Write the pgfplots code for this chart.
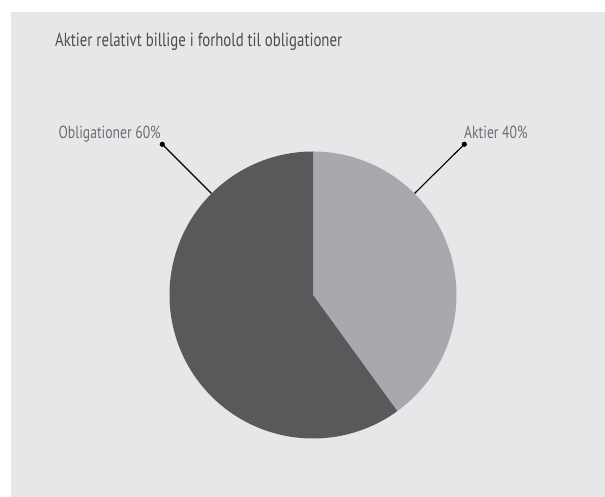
\documentclass[border=0pt]{standalone}
\usepackage{pgfplots}
\pgfplotsset{compat=1.18}
\usepackage{pgfplotstable}
\usepackage{fontspec}
\setmainfont{PT Sans}[FakeStretch=0.78]

\definecolor{panel}{HTML}{E6E7E8}
\definecolor{sliceA}{HTML}{A7A9AC}
\definecolor{sliceB}{HTML}{58595B}
\definecolor{titlegray}{HTML}{4D4D4F}
\definecolor{labelgray}{HTML}{6D6E71}

% share of each slice, in percent
\pgfplotstableread{
label share
Aktier 40
Obligationer 60
}\piedata

\begin{document}
\begin{tikzpicture}
\pgfplotstablegetelem{0}{share}\of\piedata \edef\sA{\pgfplotsretval}
\pgfplotstablegetelem{1}{share}\of\piedata \edef\sB{\pgfplotsretval}
\pgfmathsetmacro{\aA}{90-3.6*\sA}
\pgfmathsetmacro{\aB}{\aA-3.6*\sB}
\begin{axis}[
    width=605pt, height=497pt, scale only axis,
    xmin=0, xmax=605, ymin=0, ymax=497,
    hide axis, clip=false]
  \fill[white] (axis cs:0,0) rectangle (axis cs:605,497);
  \fill[panel] (axis cs:11,0) rectangle (axis cs:605,485);
  % slices, clockwise from 12 o'clock
  \addplot[draw=none, fill=sliceA, domain=90:\aA, samples=120, variable=\t]
    ({313+143.5*cos(\t)}, {202+143.5*sin(\t)}) -- (axis cs:313,202) -- cycle;
  \addplot[draw=none, fill=sliceB, domain=\aA:\aB, samples=160, variable=\t]
    ({313+143.5*cos(\t)}, {202+143.5*sin(\t)}) -- (axis cs:313,202) -- cycle;
  % leader lines
  \addplot[black, line width=1.1pt, mark=*, mark size=2pt, mark indices={2}]
    coordinates {(414.5,303.5) (464.3,352.7)};
  \addplot[black, line width=1.1pt, mark=*, mark size=2pt, mark indices={2}]
    coordinates {(211.5,303.5) (162.3,352.7)};
  \node[anchor=base west, text=labelgray, font=\fontsize{17.5}{20}\selectfont, inner sep=0pt]
    at (axis cs:464,358) {Aktier \sA\%};
  \node[anchor=base east, text=labelgray, font=\fontsize{17.5}{20}\selectfont, inner sep=0pt]
    at (axis cs:161,358) {Obligationer \sB\%};
  \node[anchor=base west, text=titlegray, font=\fontsize{19}{22}\selectfont, inner sep=0pt]
    at (axis cs:55,450.3) {Aktier relativt billige i forhold til obligationer};
\end{axis}
\end{tikzpicture}
\end{document}
